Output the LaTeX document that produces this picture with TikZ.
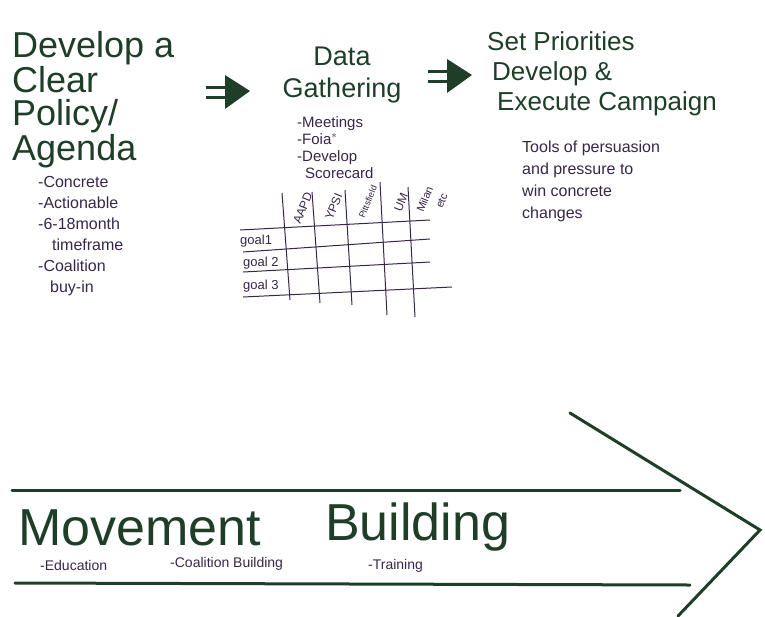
\documentclass[tikz,border=0pt]{standalone}
\usepackage{fontspec}
\setmainfont{Liberation Sans}

\definecolor{inkgreen}{RGB}{30,62,40}
\definecolor{inkviolet}{RGB}{55,38,72}

\tikzset{
  title/.style={inkgreen, align=left, anchor=base west, inner sep=0pt},
  notes/.style={inkviolet, align=left, anchor=base west, inner sep=0pt},
  grid line/.style={inkviolet, line width=1pt},
  header/.style={inkviolet, font=\fontsize{12}{12}\selectfont, rotate=68, anchor=base west, inner sep=1pt},
  band/.style={inkgreen, line width=3pt, line cap=round},
  pushArrow/.pic={
    \draw[inkgreen, line width=3pt] (-22,-5) -- (0,-5);
    \draw[inkgreen, line width=3pt] (-22,5) -- (0,5);
    \fill[inkgreen] (-3,-17) -- (22,-1) -- (-3,17) -- cycle;
  }
}

\begin{document}
\begin{tikzpicture}[x=1pt, y=-1pt]

    % page frame
    \useasboundingbox (0,0) rectangle (765,616);

    % first stage: agenda (base anchor sits on the last line)
    \node[title, font=\fontsize{36}{33}\selectfont] (agenda) at (12,160)
        {Develop a\\Clear\\Policy/\\Agenda};
    \node[notes, font=\fontsize{16}{21}\selectfont] (agendaNotes) at (38,292)
        {-Concrete\\-Actionable\\-6-18month\\\hspace{14pt}timeframe\\-Coalition\\\hspace{12pt}buy-in};

    % second stage: data gathering
    \node[title, font=\fontsize{27}{32}\selectfont, align=center, anchor=base] (data) at (342,97)
        {Data\\Gathering};
    \node[notes, font=\fontsize{15}{17}\selectfont] (dataNotes) at (297,178)
        {-Meetings\\-Foia$^{*}$\\-Develop\\\hspace{8pt}Scorecard};

    % third stage: campaign
    \node[title, font=\fontsize{26}{30}\selectfont] (campaign) at (487,110)
        {Set Priorities\\\hspace{5pt}Develop \&\\\hspace{10pt}Execute Campaign};
    \node[notes, font=\fontsize{16}{22}\selectfont] (campaignNotes) at (522,218)
        {Tools of persuasion\\and pressure to\\win concrete\\changes};

    % arrows between the stages
    \pic at (228,92) {pushArrow};
    \pic at (450,76) {pushArrow};

    % scorecard grid
    \draw[grid line] (240,230) -- (430,220);
    \draw[grid line] (243,252) -- (430,239);
    \draw[grid line] (243,272) -- (430,262);
    \draw[grid line] (243,297) -- (452,287);
    \draw[grid line] (282,193) -- (290,300);
    \draw[grid line] (312,192) -- (320,303);
    \draw[grid line] (345,190) -- (352,305);
    \draw[grid line] (380,182) -- (387,315);
    \draw[grid line] (408,187) -- (415,317);

    \node[notes, font=\fontsize{13}{13}\selectfont] (goalA) at (240,244) {goal1};
    \node[notes, font=\fontsize{13}{13}\selectfont] (goalB) at (243,266) {goal 2};
    \node[notes, font=\fontsize{13}{13}\selectfont] (goalC) at (243,289) {goal 3};

    \node[header] (aapd) at (300,226) {AAPD};
    \node[header] (ypsi) at (332,222) {YPSI};
    \node[header, font=\fontsize{9}{9}\selectfont] (pitts) at (364,220) {Pittsfield};
    \node[header] (um) at (401,214) {UM};
    \node[header, font=\fontsize{11}{11}\selectfont] (milan) at (423,214) {Milan};
    \node[header, font=\fontsize{11}{11}\selectfont] (milanEtc) at (442,210) {etc};

    % movement building band
    \draw[band] (12,490) -- (680,490);
    \draw[band] (15,583) -- (690,585);
    \draw[band] (570,413) -- (760,530) -- (678,616);

    \node[title, font=\fontsize{52}{52}\selectfont] (movement) at (18,545) {Movement};
    \node[title, font=\fontsize{52}{52}\selectfont] (building) at (325,540) {Building};

    \node[notes, font=\fontsize{14}{14}\selectfont] (education) at (40,570) {-Education};
    \node[notes, font=\fontsize{14}{14}\selectfont] (coalition) at (170,567) {-Coalition Building};
    \node[notes, font=\fontsize{14}{14}\selectfont] (training) at (368,569) {-Training};

\end{tikzpicture}
\end{document}
